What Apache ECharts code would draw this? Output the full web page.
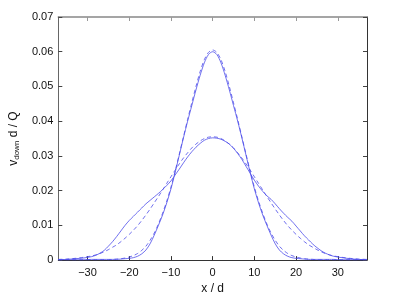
<!DOCTYPE html>
<html>
<head>
	<meta charset="UTF-8">
	<title>v_down profile</title>
	<script src="https://cdn.jsdelivr.net/npm/echarts@6/dist/echarts.min.js"></script>
	<style>
		html, body { margin: 0; padding: 0; background: #fff; }
		#chart { width: 415px; height: 300px; }
	</style>
</head>
<body>
	<div id="chart"></div>
	<script>
		// x / d positions shared by all curves
		var xPos = [-37, -35, -33, -31, -29, -28, -27, -26, -25, -24, -23, -22, -21, -20, -19, -18, -17, -16, -15, -14, -13, -12, -11, -10,
			-9, -8, -7, -6, -5, -4, -3, -2, -1, 0, 1, 2, 3, 4, 5, 6, 7, 8, 9,
			10, 11, 12, 13, 14, 15, 16, 17, 18, 19, 20, 21, 22, 23, 24, 25, 26, 27, 28, 29, 31, 33, 35, 37];

		// narrow profile, measured (solid)
		var narrowSolid = [0.0001, 0.0001, 0.0001, 0.0001, 0.0002, 0.0002, 0.0002, 0.0002, 0.0002, 0.0002, 0.0002, 0.0003, 0.0004, 0.0005, 0.0007, 0.0011, 0.0018, 0.0029, 0.0047, 0.0072, 0.0100, 0.0130, 0.0165, 0.0205,
			0.0252, 0.0302, 0.0352, 0.0400, 0.0445, 0.0490, 0.0532, 0.0568, 0.0592, 0.0600, 0.0592, 0.0568, 0.0532, 0.0490, 0.0445, 0.0400, 0.0352, 0.0302, 0.0252,
			0.0205, 0.0165, 0.0130, 0.0100, 0.0072, 0.0047, 0.0029, 0.0018, 0.0011, 0.0007, 0.0005, 0.0004, 0.0003, 0.0002, 0.0002, 0.0002, 0.0002, 0.0002, 0.0002, 0.0002, 0.0001, 0.0001, 0.0001, 0.0001];

		// narrow profile, fit (dashed)
		var narrowDashed = [0.0001, 0.0001, 0.0001, 0.0001, 0.0001, 0.0001, 0.0001, 0.0001, 0.0001, 0.0002, 0.0003, 0.0004, 0.0006, 0.0009, 0.0013, 0.0019, 0.0028, 0.0040, 0.0057, 0.0078, 0.0104, 0.0135, 0.0170, 0.0210,
			0.0256, 0.0305, 0.0355, 0.0405, 0.0453, 0.0500, 0.0543, 0.0577, 0.0598, 0.0605, 0.0598, 0.0577, 0.0543, 0.0500, 0.0453, 0.0405, 0.0355, 0.0305, 0.0256,
			0.0210, 0.0170, 0.0135, 0.0104, 0.0078, 0.0057, 0.0040, 0.0028, 0.0019, 0.0013, 0.0009, 0.0006, 0.0004, 0.0003, 0.0002, 0.0001, 0.0001, 0.0001, 0.0001, 0.0001, 0.0001, 0.0001, 0.0001, 0.0001];

		// wide profile, measured (solid)
		var wideSolid = [0.0001, 0.0002, 0.0004, 0.0006, 0.0010, 0.0014, 0.0020, 0.0028, 0.0040, 0.0053, 0.0068, 0.0084, 0.0100, 0.0114, 0.0126, 0.0138, 0.0150, 0.0162, 0.0172, 0.0182, 0.0192, 0.0203, 0.0215, 0.0228,
			0.0245, 0.0262, 0.0280, 0.0297, 0.0312, 0.0325, 0.0336, 0.0345, 0.0350, 0.0352, 0.0351, 0.0348, 0.0342, 0.0334, 0.0322, 0.0307, 0.0290, 0.0270, 0.0250,
			0.0230, 0.0213, 0.0198, 0.0185, 0.0175, 0.0162, 0.0148, 0.0135, 0.0123, 0.0112, 0.0098, 0.0084, 0.0070, 0.0058, 0.0046, 0.0036, 0.0027, 0.0020, 0.0015, 0.0011, 0.0007, 0.0004, 0.0002, 0.0001];

		// wide profile, fit (dashed)
		var wideDashed = [0.0002, 0.0003, 0.0005, 0.0008, 0.0012, 0.0015, 0.0019, 0.0024, 0.0030, 0.0037, 0.0044, 0.0053, 0.0063, 0.0074, 0.0086, 0.0099, 0.0114, 0.0130, 0.0147, 0.0165, 0.0183, 0.0202, 0.0221, 0.0240,
			0.0259, 0.0277, 0.0294, 0.0309, 0.0323, 0.0334, 0.0343, 0.0350, 0.0354, 0.0355, 0.0354, 0.0350, 0.0343, 0.0334, 0.0323, 0.0309, 0.0294, 0.0277, 0.0259,
			0.0240, 0.0221, 0.0202, 0.0183, 0.0165, 0.0147, 0.0130, 0.0114, 0.0099, 0.0086, 0.0074, 0.0063, 0.0053, 0.0044, 0.0037, 0.0030, 0.0024, 0.0019, 0.0015, 0.0012, 0.0008, 0.0005, 0.0003, 0.0002];

		var xTicks = [-30, -20, -10, 0, 10, 20, 30];

		function pairs(vals) {
			var out = [];
			for (var i = 0; i < xPos.length; i++) {
				out.push([xPos[i], vals[i]]);
			}
			return out;
		}

		var lineColor = '#4b4bea';
		var fontFam = '"Liberation Sans", Arial, sans-serif';

		function curve(vals, dashed) {
			return {
				type: 'line',
				data: pairs(vals),
				showSymbol: false,
				smooth: 0.3,
				xAxisIndex: 0,
				yAxisIndex: 0,
				lineStyle: {
					color: lineColor,
					width: 0.8,
					type: dashed ? [4, 3] : 'solid'
				},
				z: 3
			};
		}

		var chart = echarts.init(document.getElementById('chart'));
		var option = {
			animation: false,
			backgroundColor: '#fff',
			grid: { left: 55, right: 48, top: 17, bottom: 39 },
			xAxis: [{
				type: 'value',
				min: -37,
				max: 37,
				name: 'x / d',
				nameLocation: 'middle',
				nameGap: 19,
				nameTextStyle: { color: '#111', fontSize: 12, fontFamily: fontFam },
				axisLine: { onZero: false, lineStyle: { color: '#333', width: 1 } },
				axisTick: { inside: true, length: 4, customValues: xTicks, lineStyle: { color: '#333' } },
				axisLabel: {
					customValues: xTicks,
					color: '#111',
					fontSize: 11,
					fontFamily: fontFam,
					margin: 7,
					formatter: function (v) { return v < 0 ? '\u2212' + (-v) : '' + v; }
				},
				splitLine: { show: false }
			}, {
				type: 'value',
				position: 'top',
				min: -37,
				max: 37,
				axisLine: { onZero: false, lineStyle: { color: '#888', width: 1.5 } },
				axisTick: { inside: true, length: 4, customValues: xTicks, lineStyle: { color: '#999' } },
				axisLabel: { show: false },
				splitLine: { show: false }
			}],
			yAxis: [{
				type: 'value',
				min: 0,
				max: 0.07,
				interval: 0.01,
				name: 'v{sub|down} d / Q',
				nameLocation: 'middle',
				nameGap: 37,
				nameRotate: 90,
				nameTextStyle: {
					color: '#111',
					fontSize: 12,
					fontFamily: fontFam,
					rich: {
						sub: { fontSize: 8, fontFamily: fontFam, color: '#111', padding: [0, 0, -6, 0] }
					}
				},
				axisLine: { show: true, onZero: false, lineStyle: { color: '#666', width: 1 } },
				axisTick: { show: true, inside: true, length: 4, lineStyle: { color: '#444' } },
				axisLabel: { color: '#111', fontSize: 11, fontFamily: fontFam, margin: 5 },
				splitLine: { show: false }
			}, {
				type: 'value',
				position: 'right',
				min: 0,
				max: 0.07,
				interval: 0.01,
				axisLine: { show: true, onZero: false, lineStyle: { color: '#333', width: 1 } },
				axisTick: { show: true, inside: true, length: 4, lineStyle: { color: '#444' } },
				axisLabel: { show: false },
				splitLine: { show: false }
			}],
			series: [
				curve(narrowSolid, false),
				curve(narrowDashed, true),
				curve(wideSolid, false),
				curve(wideDashed, true)
			]
		};
		chart.setOption(option);
	</script>
</body>
</html>
